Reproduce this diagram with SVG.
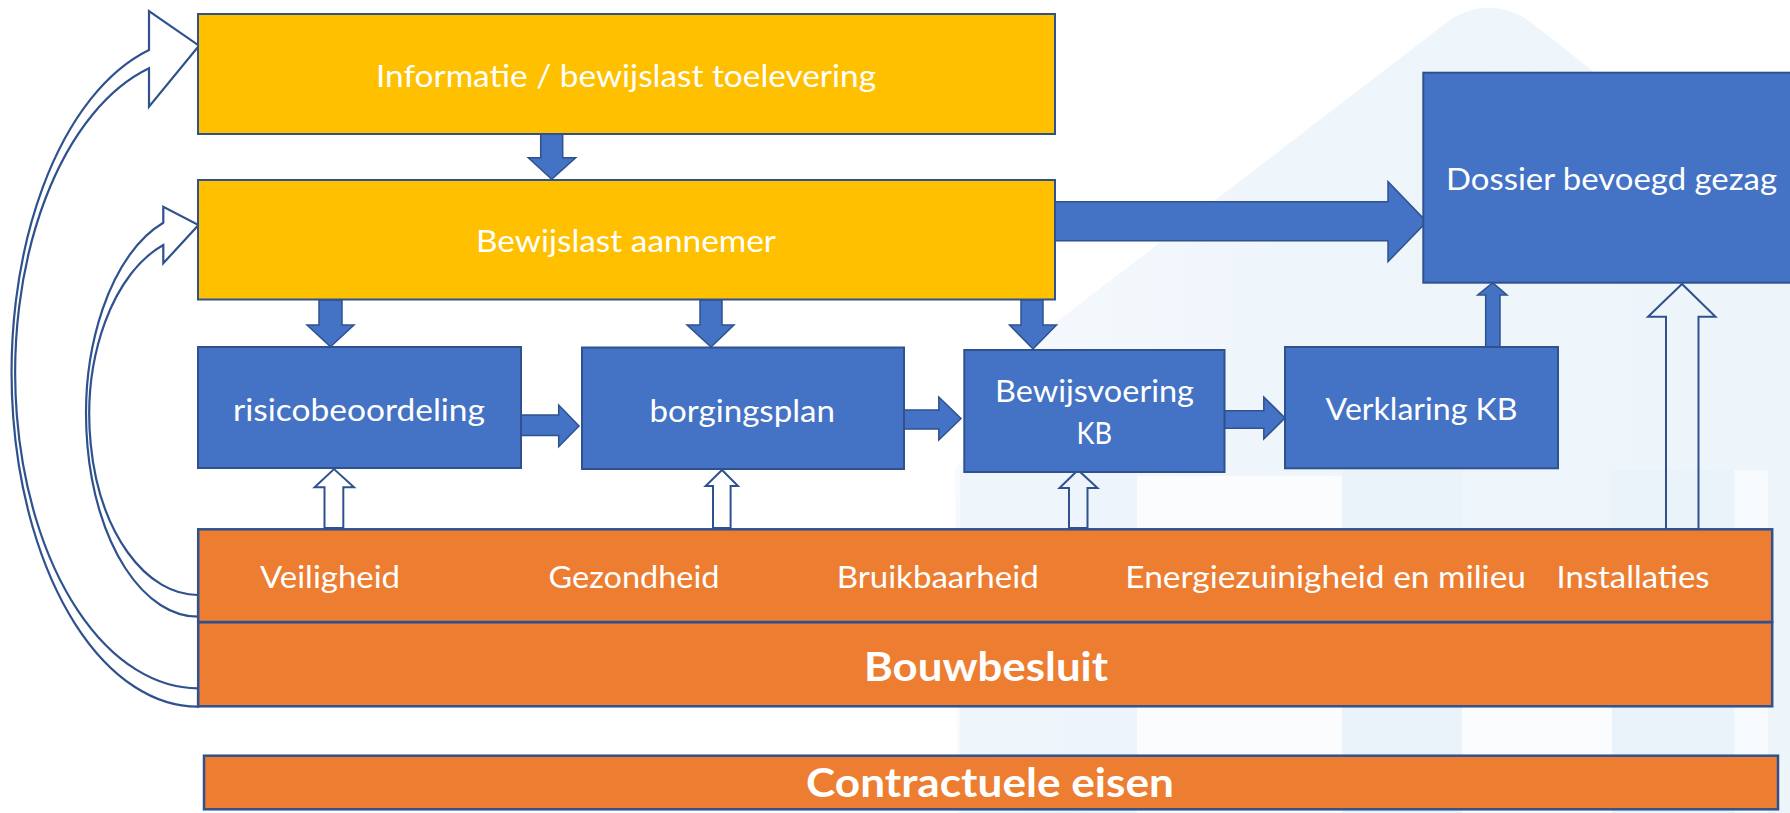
<svg xmlns="http://www.w3.org/2000/svg" width="1790" height="813" viewBox="0 0 1790 813">
  <style>
    .by { fill:#FFC000; stroke:#2F528F; stroke-width:2; }
    .bb { fill:#4472C4; stroke:#2F528F; stroke-width:2; }
    .bo { fill:#ED7D31; stroke:#2F528F; stroke-width:2.5; }
    .t { font-family:Lato, "Liberation Sans", sans-serif; fill:#FFFFFF; font-size:30px; }
    .tb { font-weight:bold; font-size:40px; }
    .arr { fill:#4472C4; stroke:#2F528F; stroke-width:1.5; stroke-linejoin:miter; }
    .hol { fill:none; stroke:#2F528F; stroke-width:2; stroke-linejoin:miter; }
    .cur { fill:#FFFFFF; stroke:#2F528F; stroke-width:2.2; stroke-linejoin:miter; }
  </style>
  <defs>
    <linearGradient id="roofg" x1="0" y1="0" x2="1" y2="0">
      <stop offset="0" stop-color="#F7FAFD"/>
      <stop offset="0.4" stop-color="#EEF5FB"/>
      <stop offset="1" stop-color="#EDF4FA"/>
    </linearGradient>
  </defs>
  <rect x="0" y="0" width="1790" height="813" fill="#FFFFFF"/>

  <!-- faint background watermark (house) -->
  <g id="watermark">
    <path d="M955,470 L1042,333 L1450,20 Q1489,-5 1528,20 L1790,226 L1790,813 L958,813 Z" fill="url(#roofg)"/>
    <rect x="1137" y="476" width="205" height="337" fill="#FAFCFE"/>
    <rect x="1462" y="707" width="150" height="106" fill="#FAFCFE"/>
    <rect x="1734" y="470" width="34" height="343" fill="#F6FAFD"/>
    <rect x="960" y="470" width="177" height="343" fill="#EAF2FA" opacity="0.6"/>
    <rect x="1342" y="470" width="120" height="343" fill="#E8F1F9" opacity="0.6"/>
    <rect x="1612" y="470" width="122" height="343" fill="#E8F1F9" opacity="0.6"/>
  </g>

  <g id="connectors">
    <!-- curved hollow arrows on the left -->
    <path class="cur" d="M198,706.7 A186.3,334.2 0 0 1 149,50 L149,11 L199,45.7 L149,106.7 L149,68.3 A183,315.8 0 0 0 198,688.3 Z"/>
    <path class="cur" d="M198,616.7 A112,202 0 0 1 163.3,222.7 L163.3,206.7 L198.5,225 L163.3,263.3 L163.3,245 A108.7,179.7 0 0 0 198,595 Z"/>

    <!-- filled down arrows -->
    <polygon class="arr" points="540.7,134 562.7,134 562.7,157.7 575.7,157.7 551.7,179.3 528.3,157.7 540.7,157.7"/>
    <polygon class="arr" points="319,300 342,300 342,325 354,325 330.5,346.7 307,325 319,325"/>
    <polygon class="arr" points="700,300 722,300 722,325 734,325 711,347 687,325 700,325"/>
    <polygon class="arr" points="1021,300 1043,300 1043,325 1056.5,325 1033,349 1009.5,325 1021,325"/>

    <!-- filled right arrows -->
    <polygon class="arr" points="521,415 558.7,415 558.7,405 579,426 558.7,446.7 558.7,435.5 521,435.5"/>
    <polygon class="arr" points="904,410 938.8,410 938.8,397 961,418.5 938.8,440 938.8,429 904,429"/>
    <polygon class="arr" points="1224.5,410.7 1263.8,410.7 1263.8,397 1285,418 1263.8,439 1263.8,428.3 1224.5,428.3"/>
    <polygon class="arr" points="1055,201.7 1388,201.7 1388,181.7 1426.7,221.7 1388,261.7 1388,240.7 1055,240.7"/>

    <!-- filled up arrow Verklaring -> Dossier -->
    <polygon class="arr" points="1485.7,347 1485.7,295 1477.7,295 1492.7,282.7 1507,295 1500,295 1500,347"/>

    <!-- hollow up arrows -->
    <polygon class="hol" points="324.5,528 324.5,487.3 314.6,487.3 334,469 354,487.3 343.3,487.3 343.3,528"/>
    <polygon class="hol" points="713,528 713,486 705.6,486 722,470 738,486 730.6,486 730.6,528"/>
    <polygon class="hol" points="1069,528 1069,488 1059.5,488 1078,470 1097.5,488 1087.5,488 1087.5,528"/>
    <polygon class="hol" points="1666,529 1666,316.7 1648,316.7 1682,284 1715.5,316.7 1698.5,316.7 1698.5,529"/>
  </g>

  <g id="node-informatie">
    <rect class="by" x="198" y="14" width="857" height="120"/>
    <text class="t" x="376" y="87.3" font-size="33" textLength="500" lengthAdjust="spacingAndGlyphs">Informatie / bewijslast toelevering</text>
  </g>
  <g id="node-bewijslast">
    <rect class="by" x="198" y="180" width="857" height="119.5"/>
    <text class="t" x="476" y="251.7" font-size="31" textLength="300" lengthAdjust="spacingAndGlyphs">Bewijslast aannemer</text>
  </g>
  <g id="node-risico">
    <rect class="bb" x="198" y="347" width="323" height="121"/>
    <text class="t" x="233" y="421" textLength="252" lengthAdjust="spacingAndGlyphs">risicobeoordeling</text>
  </g>
  <g id="node-borgingsplan">
    <rect class="bb" x="582" y="347.5" width="322" height="121.5"/>
    <text class="t" x="649.5" y="421.7" textLength="185.5" lengthAdjust="spacingAndGlyphs">borgingsplan</text>
  </g>
  <g id="node-bewijsvoering">
    <rect class="bb" x="964.3" y="350" width="260.2" height="122"/>
    <text class="t" x="995" y="401.7" textLength="199" lengthAdjust="spacingAndGlyphs">Bewijsvoering</text>
    <text class="t" x="1076.5" y="444" textLength="35.5" lengthAdjust="spacingAndGlyphs">KB</text>
  </g>
  <g id="node-verklaring">
    <rect class="bb" x="1285" y="347" width="273" height="121.3"/>
    <text class="t" x="1325.6" y="419.5" textLength="192" lengthAdjust="spacingAndGlyphs">Verklaring KB</text>
  </g>
  <g id="node-dossier">
    <rect class="bb" x="1423.3" y="72.7" width="400" height="210"/>
    <text class="t" x="1446" y="190" textLength="331" lengthAdjust="spacingAndGlyphs">Dossier bevoegd gezag</text>
  </g>
  <g id="node-aspecten">
    <rect class="bo" x="198.2" y="529.3" width="1574" height="92.7"/>
    <text class="t" x="260" y="588" textLength="140" lengthAdjust="spacingAndGlyphs">Veiligheid</text>
    <text class="t" x="548.5" y="588" textLength="171" lengthAdjust="spacingAndGlyphs">Gezondheid</text>
    <text class="t" x="836.7" y="588" textLength="202" lengthAdjust="spacingAndGlyphs">Bruikbaarheid</text>
    <text class="t" x="1125.3" y="587.5" textLength="400.7" lengthAdjust="spacingAndGlyphs">Energiezuinigheid en milieu</text>
    <text class="t" x="1556.6" y="587.5" textLength="153" lengthAdjust="spacingAndGlyphs">Installaties</text>
  </g>
  <g id="node-bouwbesluit">
    <rect class="bo" x="198.2" y="622.3" width="1574" height="84"/>
    <text class="t tb" x="864" y="680.7" textLength="244" lengthAdjust="spacingAndGlyphs">Bouwbesluit</text>
  </g>
  <g id="node-contractueel">
    <rect class="bo" x="204" y="755.7" width="1574" height="53.6"/>
    <text class="t tb" x="806" y="797.3" textLength="368" lengthAdjust="spacingAndGlyphs">Contractuele eisen</text>
  </g>
</svg>
